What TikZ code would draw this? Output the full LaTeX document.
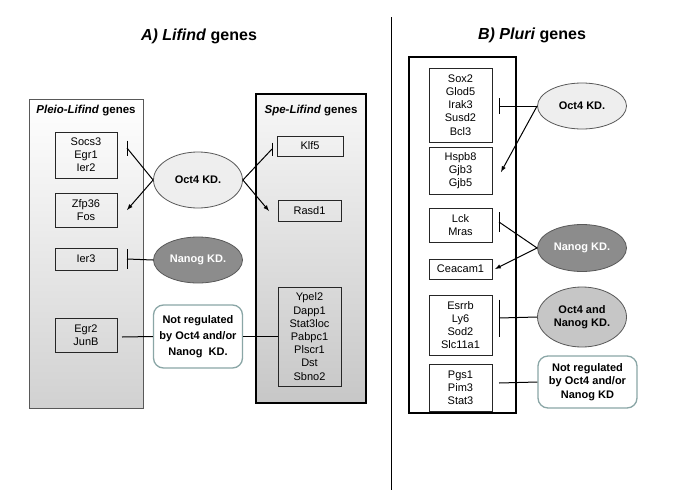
\documentclass[tikz,border=0pt]{standalone}
\usepackage{fontspec}
\setmainfont{Liberation Sans}
\usetikzlibrary{shapes.geometric}

\definecolor{kdlight}{HTML}{EEEEEE}
\definecolor{kddark}{HTML}{8C8C8C}
\definecolor{kdmid}{HTML}{C6C6C6}
\definecolor{nrborder}{HTML}{8AA6A6}

\tikzset{
  genebox/.style={draw=black!85, line width=0.8pt, align=center, inner sep=0pt,
    font=\fontsize{11}{13.2}\selectfont},
  kdnode/.style={ellipse, draw=black!65, line width=0.8pt, align=center, inner sep=0pt,
    font=\bfseries\fontsize{11}{13.5}\selectfont, minimum width=89},
  notreg/.style={draw=nrborder, line width=1.3pt, rounded corners=10pt, fill=white,
    align=center, inner sep=0pt, font=\bfseries\fontsize{11}{16}\selectfont},
  settitle/.style={font=\bfseries\fontsize{11.5}{14}\selectfont},
  bigtitle/.style={font=\bfseries\fontsize{16}{19}\selectfont},
  link/.style={line width=1pt},
  barline/.style={line width=1pt},
}

\begin{document}
\begin{tikzpicture}[x=1pt,y=-1pt]
  \useasboundingbox (0,0) rectangle (685,498);

  % titles and divider
  \node[bigtitle] (titA) at (199,36) {\textit{A) Lifind} genes};
  \node[bigtitle] (titB) at (532,35) {\textit{B) Pluri} genes};
  \draw[line width=0.8pt] (391.5,17) -- (391.5,490);

  % A) sets
  \node[draw=black!65, line width=0.7pt, top color=white, bottom color=black!18,
        minimum width=114, minimum height=309] (pleio) at (86,253.5) {};
  \node[settitle] (pleioT) at (86,111) {\textit{Pleio-Lifind} genes};
  \node[draw=black, line width=1.2pt, top color=black!3, bottom color=black!22,
        minimum width=110, minimum height=309] (spe) at (311,248.5) {};
  \node[settitle] (speT) at (311,111) {\textit{Spe-Lifind} genes};

  \node[genebox, minimum width=62, minimum height=46] (socs) at (86,155) {Socs3\\Egr1\\Ier2};
  \node[genebox, minimum width=62, minimum height=34] (zfp) at (86,210) {Zfp36\\Fos};
  \node[genebox, minimum width=62, minimum height=22] (ier3) at (86,259) {Ier3};
  \node[genebox, minimum width=62, minimum height=34] (egr2) at (86,335) {Egr2\\JunB};
  \node[genebox, minimum width=66, minimum height=20] (klf) at (310,146) {Klf5};
  \node[genebox, minimum width=63, minimum height=21] (rasd) at (309.5,210.5) {Rasd1};
  \node[genebox, minimum width=63, minimum height=99] (ypel) at (309.5,336.5)
    {Ypel2\\Dapp1\\Stat3loc\\Pabpc1\\Plscr1\\Dst\\Sbno2};

  \node[kdnode, fill=kdlight, minimum height=56] (octA) at (198,180) {Oct4 KD.};
  \node[kdnode, fill=kddark, text=white, minimum height=46] (nanA) at (198,260) {Nanog KD.};
  \node[notreg, minimum width=89, minimum height=63] (notA) at (198,336.5)
    {Not regulated\\by Oct4 and/or\\Nanog\ \ KD.};

  \coordinate (socsI) at (127,148);
  \coordinate (zfpA) at (127,210);
  \coordinate (ier3I) at (127,259);
  \coordinate (egr2L) at (122,337);
  \coordinate (klfI) at (272,149);
  \coordinate (rasdA) at (269,211);

  \draw[link] (octA.west) -- (socsI);
  \draw[barline] (socsI) ++(0,-7.5) -- ++(0,15);
  \draw[link,-latex] (octA.west) -- (zfpA);
  \draw[link] (nanA.west) -- (ier3I);
  \draw[barline] (ier3I) ++(0,-10) -- ++(0,20);
  \draw[link] (egr2L) -- (notA.west);
  \draw[link] (octA.east) -- (klfI);
  \draw[barline] (klfI) ++(0,-6.5) -- ++(0,13);
  \draw[link,-latex] (octA.east) -- (rasdA);
  \draw[link] (notA.east) -- (ypel.west);

  % B) set
  \node[draw=black, line width=1.8pt, minimum width=107, minimum height=356] (pluri) at (462.5,235) {};

  \node[genebox, minimum width=63, minimum height=74] (sox) at (460.5,105) {Sox2\\Glod5\\Irak3\\Susd2\\Bcl3};
  \node[genebox, minimum width=63, minimum height=47] (hspb) at (460.5,170.5) {Hspb8\\Gjb3\\Gjb5};
  \node[genebox, minimum width=63, minimum height=34] (lck) at (460.5,225) {Lck\\Mras};
  \node[genebox, minimum width=63, minimum height=20] (ceac) at (460.5,269) {Ceacam1};
  \node[genebox, minimum width=63, minimum height=60] (esrrb) at (460.5,325) {Esrrb\\Ly6\\Sod2\\Slc11a1};
  \node[genebox, minimum width=63, minimum height=47] (pgs) at (460.5,387.5) {Pgs1\\Pim3\\Stat3};

  \node[kdnode, fill=kdlight, minimum height=46] (octB) at (582,106) {Oct4 KD.};
  \node[kdnode, fill=kddark, text=white, minimum height=47] (nanB) at (582,248) {Nanog KD.};
  \node[kdnode, fill=kdmid, minimum height=60] (bothB) at (582,317) {Oct4 and\\Nanog KD.};
  \node[notreg, minimum width=99, minimum height=52, font=\bfseries\fontsize{11}{13.3}\selectfont]
    (notB) at (587.5,382) {Not regulated\\by Oct4 and/or\\Nanog KD};

  \coordinate (soxI) at (499,106);
  \coordinate (hspbA) at (501,172);
  \coordinate (lckI) at (499,222);
  \coordinate (ceacA) at (495,269);
  \coordinate (esrrbI) at (499,318);
  \coordinate (pgsL) at (499,383);

  \draw[link] (octB.west) -- (soxI);
  \draw[barline] (soxI) ++(0,-8) -- ++(0,16);
  \draw[link,-latex] (octB.west) -- (hspbA);
  \draw[link] (nanB.west) -- (lckI);
  \draw[barline] (lckI) ++(0,-10) -- ++(0,20);
  \draw[link,-latex] (nanB.west) -- (ceacA);
  \draw[link] (bothB.west) -- (esrrbI);
  \draw[barline] (esrrbI) ++(0,-18.5) -- ++(0,37);
  \draw[link] (pgsL) -- (notB.west);
\end{tikzpicture}
\end{document}
